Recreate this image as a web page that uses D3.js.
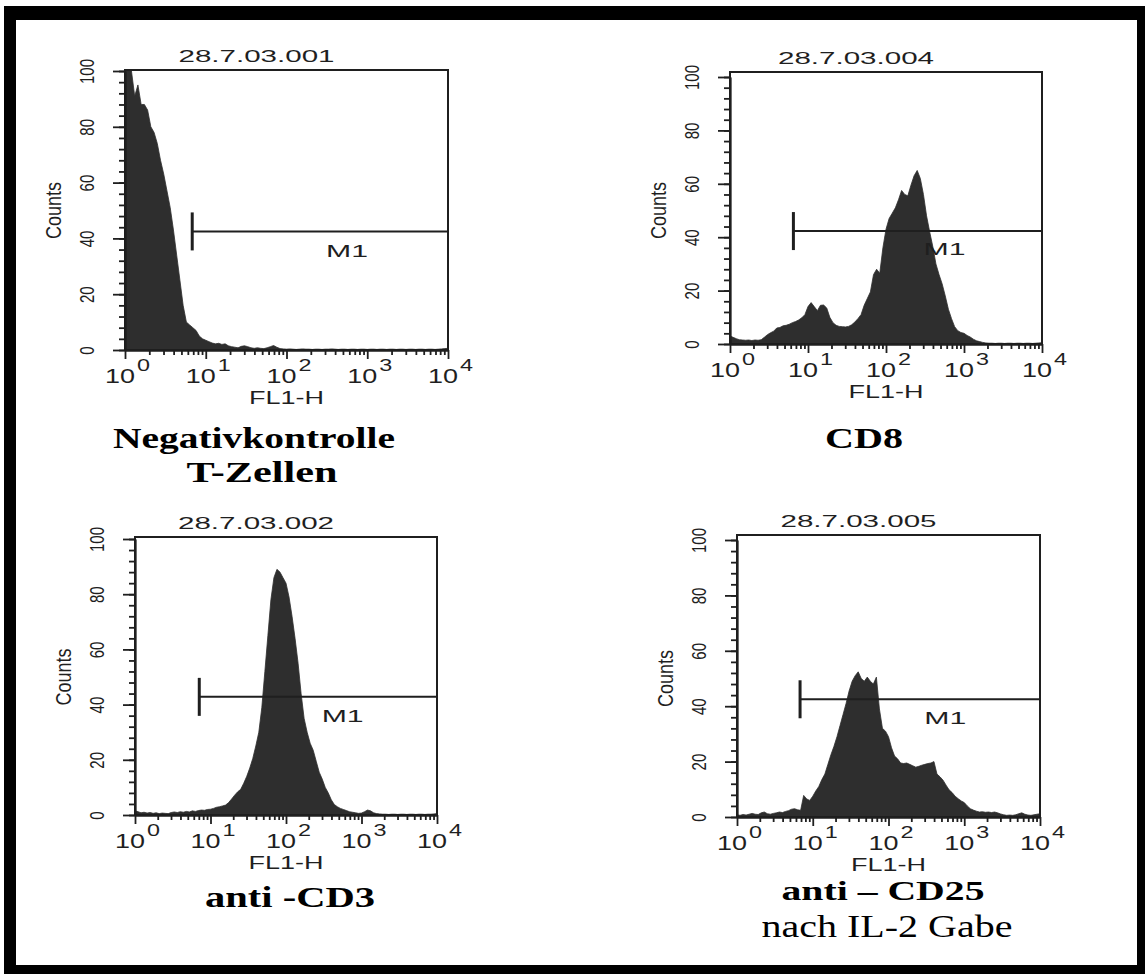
<!DOCTYPE html>
<html>
<head>
<meta charset="utf-8">
<script src="https://cdn.jsdelivr.net/npm/d3@7"></script>
<style>
  body { margin: 0; background: #fff; }
  svg { display: block; }
</style>
</head>
<body>
<svg id="chart" width="1145" height="974"></svg>
<script>
// histogram channels: log10 step between counts
const STEP = 0.04;

// Counts per channel (channel i sits at 10^(i*STEP))
const negCounts = [
  100, 100, 100, 91, 95, 88, 88, 86, 80, 78,
  74, 68, 63, 57, 51, 43, 34, 25, 16, 10,
  9, 8, 7, 5, 4, 3.5, 3, 2.5, 2.2, 2.4,
  2, 2.2, 1.5, 1.2, 1, 0.8, 1.3, 1.5, 1.2, 0.8,
  0.6, 0.8, 0.6, 0.5, 0.8, 1.2, 1.6, 1.0, 0.5, 0.4,
  0.3, 0.4, 0.3, 0.2, 0.3, 0.4, 0.3, 0.3, 0.2, 0.3,
  0.3, 0.2, 0.3, 0.3, 0.4, 0.3, 0.2, 0.3, 0.3, 0.2,
  0.3, 0.3, 0.2, 0.3, 0.3, 0.2, 0.3, 0.3, 0.2, 0.3,
  0.3, 0.2, 0.3, 0.3, 0.2, 0.3, 0.3, 0.2, 0.3, 0.3,
  0.2, 0.3, 0.3, 0.2, 0.3, 0.3, 0.2, 0.3, 0.4, 0.5,
  0.6
];
const cd8Counts = [
  3, 2.5, 2, 1.6, 1.5, 1.4, 1.5, 1.3, 1.5, 1.4,
  1.6, 2.5, 3.5, 4.2, 4.8, 6, 6.2, 6.8, 7, 7.4,
  8, 8.4, 9, 9.8, 11, 14, 15.5, 14, 12.5, 14.5,
  14.6, 13.5, 10, 8, 7, 6.6, 6.5, 6.4, 6.6, 7.2,
  8.2, 9.5, 11, 14.5, 17, 19.5, 26, 28, 26.5, 36,
  43, 47, 49, 51, 54, 57.5, 56, 55.5, 59.5, 63,
  65, 62, 56, 48, 42, 36.5, 30, 26, 22.5, 18,
  13, 9.5, 6.5, 5, 4.3, 4, 3.2, 2.6, 1.8, 1.2,
  0.9, 0.6, 0.4, 0.3, 0.3, 0.2, 0.3, 0.3, 0.2, 0.3,
  0.3, 0.2, 0.3, 0.3, 0.2, 0.3, 0.3, 0.2, 0.3, 0.4,
  0.5
];
const cd3Counts = [
  1.5, 1.2, 0.8, 1.0, 0.7, 0.9, 0.6, 0.8, 0.5, 0.7,
  0.6, 0.5, 0.9, 1.1, 0.9, 1.2, 1.0, 1.3, 1.1, 1.5,
  1.3, 1.6, 1.8, 1.7, 2.0, 2.1, 2.4, 2.8, 3, 3.3,
  3.6, 4.5, 5.8, 7.2, 8.4, 9.3, 11.5, 14, 17, 20.5,
  25, 30, 39, 52, 65, 78, 86, 89, 88, 86,
  84, 79, 72, 64, 55, 44, 35, 30, 26, 23.5,
  19.5, 15.5, 13, 10, 8, 5.5, 3.8, 3, 2.4, 2,
  1.6, 1.2, 1, 0.8, 0.6, 0.7, 1.2, 1.8, 1.5, 0.8,
  0.5, 0.4, 0.3, 0.3, 0.2, 0.3, 0.3, 0.2, 0.3, 0.3,
  0.2, 0.3, 0.3, 0.2, 0.3, 0.3, 0.2, 0.3, 0.3, 0.4,
  0.5
];
const cd25Counts = [
  0.8, 0.6, 0.9, 0.7, 1.0, 1.3, 1.0, 0.9, 1.5, 1.8,
  1.2, 1.0, 1.3, 1.5, 1.8, 1.6, 2.0, 2.3, 2.8, 3,
  2.6, 2.4, 7.8, 6.5, 6, 7.5, 9.4, 11, 13.5, 15.5,
  19, 22.5, 25.5, 29, 33, 37, 41, 45.5, 49, 51,
  52.4, 50, 49, 50.5, 49, 48, 50.5, 39, 32, 31,
  29, 25, 22, 21, 19.5, 19.3, 19.5, 19, 18.5, 18,
  18.3, 18.7, 19, 19.3, 19.5, 20, 15.5, 14.5, 13.3, 11.5,
  9.8, 8.8, 7.5, 6.6, 5.8, 5.2, 4, 3, 2.5, 2.1,
  1.8, 1.9, 1.7, 1.8, 1.6, 1.8, 1.5, 1.1, 0.8, 0.6,
  0.7, 0.6, 0.8, 1.2, 1.5, 1.0, 0.7, 0.6, 0.8, 1.0,
  1.2
];

const panelTitles = ['28.7.03.001', '28.7.03.004', '28.7.03.002', '28.7.03.005'];
const yTicks = [0, 20, 40, 60, 80, 100];
const xTicks = [1, 10, 100, 1000, 10000];
const xTickExp = ['0', '1', '2', '3', '4'];
// M1 marker: start of gate (FL1-H) and its height (counts)
const gateStart = [6.8, 6.5, 7.1, 6.8];
const gateLevel = [42.5, 42.3, 42.8, 42.5];
const captionText = [
  ['Negativkontrolle', 'T-Zellen'],
  ['CD8'],
  ['anti -CD3'],
  ['anti \u2013 CD25', 'nach IL-2 Gabe']
];

// page layout (pixels)
const layout = [
  {left: 125, right: 448, top: 70, y0: 350, y100: 71},
  {left: 730, right: 1042, top: 72, y0: 344, y100: 77},
  {left: 135, right: 437, top: 537, y0: 815, y100: 539},
  {left: 737, right: 1040, top: 535, y0: 817, y100: 540}
];
const captionStyle = [
  [{x: 254, y: 448, w: 282, size: 30, bold: true}, {x: 262, y: 482, w: 151, size: 30, bold: true}],
  [{x: 864, y: 448, w: 78, size: 30, bold: true}],
  [{x: 290, y: 907, w: 170, size: 30, bold: true}],
  [{x: 883, y: 900, w: 203, size: 28, bold: true}, {x: 887, y: 937, w: 251, size: 31, bold: false}]
];

const svg = d3.select('#chart');
const sans = '"Liberation Sans", Arial, sans-serif';
const serif = '"Liberation Serif", "Times New Roman", serif';
const ink = '#1f1f1f';
const stretch = 1.4; // the scan is wider than tall: rotated glyphs get wider too

// outer black border
svg.append('rect').attr('x', 4).attr('y', 6).attr('width', 1141).attr('height', 968).attr('fill', '#000');
svg.append('rect').attr('x', 16).attr('y', 20).attr('width', 1121).attr('height', 945).attr('fill', '#fff');

const allCounts = [negCounts, cd8Counts, cd3Counts, cd25Counts];

allCounts.forEach((counts, p) => {
    const L = layout[p];
    const g = svg.append('g');
    const x = d3.scaleLog().domain([1, 1e4]).range([L.left, L.right]);
    const y = d3.scaleLinear().domain([0, 100]).range([L.y0, L.y100]);

    const pts = counts.map((c, i) => ({v: Math.pow(10, i * STEP), c: c}));
    const area = d3.area()
        .x(d => x(d.v))
        .y0(y(0))
        .y1(d => y(Math.min(d.c, 100)));

    g.append('path').datum(pts)
        .attr('d', area)
        .attr('fill', '#2e2e2e')
        .attr('stroke', '#2e2e2e')
        .attr('stroke-width', 0.8);

    // frame
    g.append('rect')
        .attr('x', L.left).attr('y', L.top)
        .attr('width', L.right - L.left).attr('height', L.y0 - L.top)
        .attr('fill', 'none').attr('stroke', ink).attr('stroke-width', 2);

    // y axis: minor + major
    const yMinor = g.append('g').attr('transform', `translate(${L.left},0)`)
        .call(d3.axisLeft(y).tickValues(d3.range(0, 101, 4)).tickSize(6).tickSizeOuter(0).tickFormat(''));
    const yMajor = g.append('g').attr('transform', `translate(${L.left},0)`)
        .call(d3.axisLeft(y).tickValues(yTicks).tickSize(12).tickSizeOuter(0));
    yMajor.selectAll('text')
        .attr('transform', `rotate(-90) scale(1,${stretch})`)
        .attr('x', 0).attr('y', -38 / stretch).attr('dy', '0.35em')
        .style('text-anchor', 'middle')
        .style('font-family', sans).style('font-size', '15px').attr('fill', ink);

    // x axis: log minor + decades
    const xMinorVals = [];
    xTicks.slice(0, 4).forEach(t => { for (let m = 2; m <= 9; m++) xMinorVals.push(t * m); });
    const xMinor = g.append('g').attr('transform', `translate(0,${L.y0})`)
        .call(d3.axisBottom(x).tickValues(xMinorVals).tickSize(5).tickSizeOuter(0).tickFormat(''));
    const xMajor = g.append('g').attr('transform', `translate(0,${L.y0})`)
        .call(d3.axisBottom(x).tickValues(xTicks).tickSize(9).tickSizeOuter(0).tickFormat(''));

    [yMinor, yMajor, xMinor, xMajor].forEach(a => {
        a.selectAll('path, line').attr('stroke', ink).attr('stroke-width', 1.8);
    });

    // decade labels 10^n
    xTicks.forEach((t, i) => {
        g.append('text')
            .attr('x', x(t) - 5).attr('y', L.y0 + 33)
            .attr('text-anchor', 'middle')
            .attr('textLength', 30).attr('lengthAdjust', 'spacingAndGlyphs')
            .style('font-family', sans).style('font-size', '21px').attr('fill', ink)
            .text('10');
        g.append('text')
            .attr('x', x(t) + 12).attr('y', L.y0 + 21)
            .attr('textLength', 13).attr('lengthAdjust', 'spacingAndGlyphs')
            .style('font-family', sans).style('font-size', '16px').attr('fill', ink)
            .text(xTickExp[i]);
    });

    // axis titles
    g.append('text')
        .attr('x', (L.left + L.right) / 2).attr('y', L.y0 + 54)
        .attr('text-anchor', 'middle')
        .attr('textLength', 75).attr('lengthAdjust', 'spacingAndGlyphs')
        .style('font-family', sans).style('font-size', '18px').attr('fill', ink)
        .text('FL1-H');

    g.append('text')
        .attr('transform', `translate(${L.left - 72},${(L.y0 + L.y100) / 2}) rotate(-90) scale(1,1.25)`)
        .attr('text-anchor', 'middle').attr('dy', '0.35em')
        .style('font-family', sans).style('font-size', '18px').attr('fill', ink)
        .text('Counts');

    // sample title
    g.append('text')
        .attr('x', (L.left + L.right) / 2 - 30).attr('y', L.top - 8)
        .attr('text-anchor', 'middle')
        .attr('textLength', 156).attr('lengthAdjust', 'spacingAndGlyphs')
        .style('font-family', sans).style('font-size', '17px').attr('fill', ink)
        .text(panelTitles[p]);

    // M1 marker
    const gx = x(gateStart[p]), gy = y(gateLevel[p]);
    g.append('line')
        .attr('x1', gx).attr('x2', gx).attr('y1', gy - 19).attr('y2', gy + 19)
        .attr('stroke', ink).attr('stroke-width', 3);
    g.append('line')
        .attr('x1', gx).attr('x2', L.right).attr('y1', gy).attr('y2', gy)
        .attr('stroke', ink).attr('stroke-width', 2);
    g.append('text')
        .attr('x', x(Math.pow(10, 2.75))).attr('y', y(gateLevel[p] - 9))
        .attr('text-anchor', 'middle')
        .attr('textLength', 42).attr('lengthAdjust', 'spacingAndGlyphs')
        .style('font-family', sans).style('font-size', '17px').attr('fill', ink)
        .text('M1');

    // caption below the panel
    captionText[p].forEach((line, k) => {
        const s = captionStyle[p][k];
        svg.append('text')
            .attr('x', s.x).attr('y', s.y)
            .attr('text-anchor', 'middle')
            .attr('textLength', s.w).attr('lengthAdjust', 'spacingAndGlyphs')
            .style('font-family', serif).style('font-size', s.size + 'px')
            .style('font-weight', s.bold ? 'bold' : 'normal')
            .attr('fill', '#000')
            .text(line);
    });
});
</script>
</body>
</html>
